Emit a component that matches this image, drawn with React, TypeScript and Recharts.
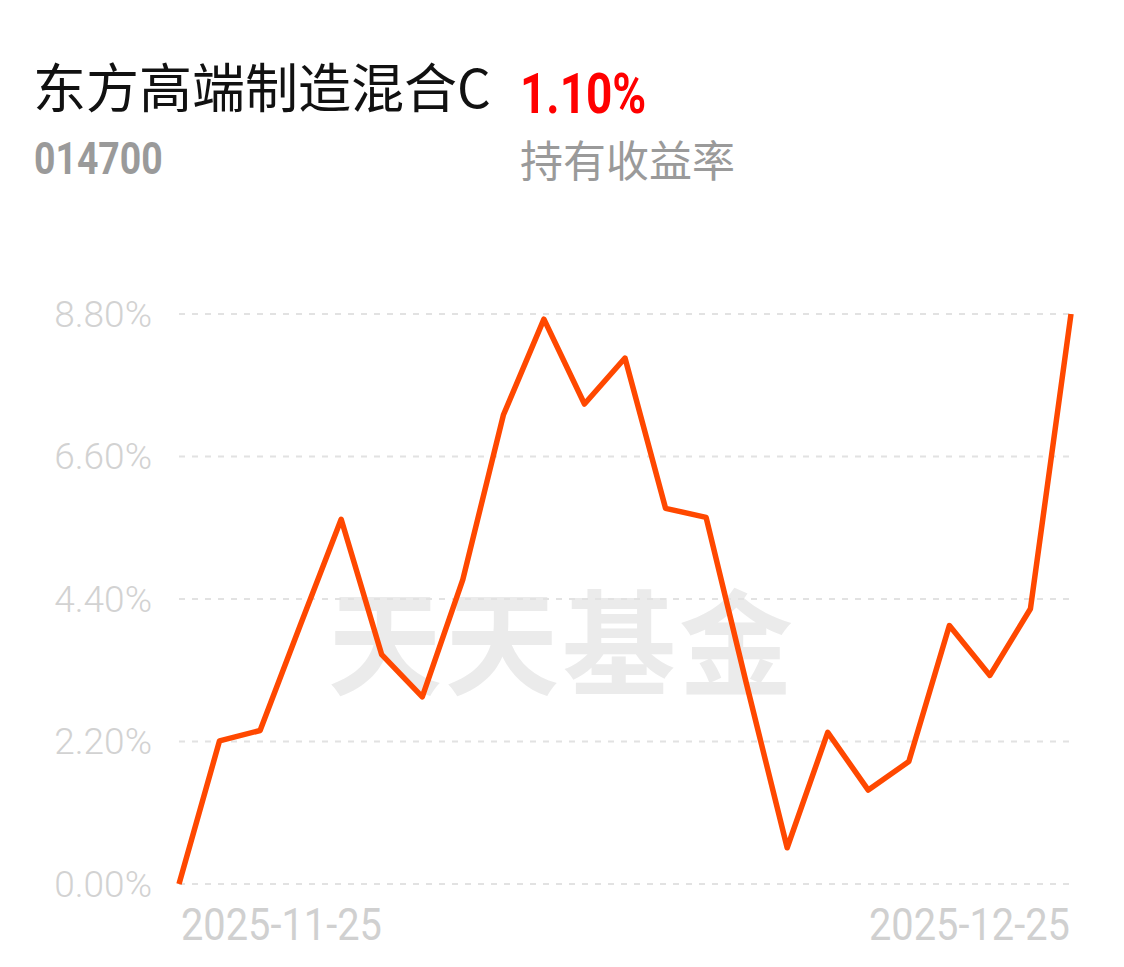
import React from "react"
import { LineChart, Line, XAxis, YAxis, CartesianGrid } from "recharts"

const dates = [
  "2025-11-25", "2025-11-26", "2025-11-27", "2025-11-28",
  "2025-12-01", "2025-12-02", "2025-12-03", "2025-12-04", "2025-12-05",
  "2025-12-08", "2025-12-09", "2025-12-10", "2025-12-11", "2025-12-12",
  "2025-12-15", "2025-12-16", "2025-12-17", "2025-12-18", "2025-12-19",
  "2025-12-22", "2025-12-23", "2025-12-24", "2025-12-25",
]
const returns = [
  0, 2.21, 2.37, 4.01, 5.63, 3.54, 2.89, 4.7, 7.24, 8.72, 7.41, 8.12,
  5.8, 5.66, 3.08, 0.56, 2.34, 1.45, 1.89, 3.99, 3.22, 4.25, 8.8,
]
const yTicks = [0, 2.2, 4.4, 6.6, 8.8]
const xTicks = ["2025-11-25", "2025-12-25"]

const data = dates.map((d, i) => ({ date: d, value: returns[i] }))

const font = "Roboto, 'Noto Sans CJK SC', sans-serif"
const cjk = "'Noto Sans CJK SC', sans-serif"

function YTick(props: any) {
  const { y, payload } = props
  return (
    <text x={152} y={y} textAnchor="end" dominantBaseline="central" fill="#d2d2d2" fontSize={37} fontWeight={300} fontFamily={font}>
      {payload.value.toFixed(2)}%
    </text>
  )
}

function XTick(props: any) {
  const { x, payload } = props
  const first = payload.value === xTicks[0]
  return (
    <text
      x={first ? x + 2 : x - 1}
      y={925}
      textAnchor={first ? "start" : "end"}
      dominantBaseline="central"
      fill="#d0d0d0"
      fontSize={44}
      fontFamily={font}
      textLength={201}
      lengthAdjust="spacingAndGlyphs"
    >
      {payload.value}
    </text>
  )
}

export default function App() {
  return (
    <div style={{ position: "absolute", left: 0, top: 0, width: 1124, height: 967, background: "#fff", overflow: "hidden" }}>
      <div style={{ position: "absolute", left: 33, top: 59, fontFamily: cjk, fontSize: 53, lineHeight: 1, color: "#111", whiteSpace: "nowrap" }}>
        东方高端制造混合C
      </div>
      <div style={{ position: "absolute", left: 520, top: 66, fontFamily: font, fontWeight: 700, fontSize: 56, lineHeight: 1, color: "#f00", transform: "scaleX(0.82)", transformOrigin: "left" }}>
        1.10%
      </div>
      <div style={{ position: "absolute", left: 34, top: 137, fontFamily: font, fontWeight: 700, fontSize: 44, lineHeight: 1, color: "#9a9a9a", transform: "scaleX(0.85)", transformOrigin: "left" }}>
        014700
      </div>
      <div style={{ position: "absolute", left: 520, top: 137, fontFamily: cjk, fontSize: 43, lineHeight: 1, color: "#9a9a9a", whiteSpace: "nowrap" }}>
        持有收益率
      </div>
      <div style={{ position: "absolute", left: 328, top: 580, fontFamily: cjk, fontWeight: 700, fontSize: 114, lineHeight: 1, color: "#ebebeb", letterSpacing: 3, whiteSpace: "nowrap" }}>
        天天基金
      </div>
      <div style={{ position: "absolute", left: 0, top: 0 }}>
        <LineChart width={1124} height={967} data={data} margin={{ top: 314, right: 53, left: 0, bottom: 0 }}>
          <CartesianGrid vertical={false} stroke="#e2e2e2" strokeWidth={2} strokeDasharray="6 7" />
          <YAxis
            width={179}
            domain={[0, 8.8]}
            ticks={yTicks}
            axisLine={false}
            tickLine={false}
            tick={<YTick />}
          />
          <XAxis
            dataKey="date"
            height={83}
            ticks={xTicks}
            interval={0}
            axisLine={false}
            tickLine={false}
            tick={<XTick />}
          />
          <Line
            type="linear"
            dataKey="value"
            stroke="#ff4800"
            strokeWidth={5.5}
            strokeLinejoin="round"
            dot={false}
            isAnimationActive={false}
          />
        </LineChart>
      </div>
    </div>
  )
}
